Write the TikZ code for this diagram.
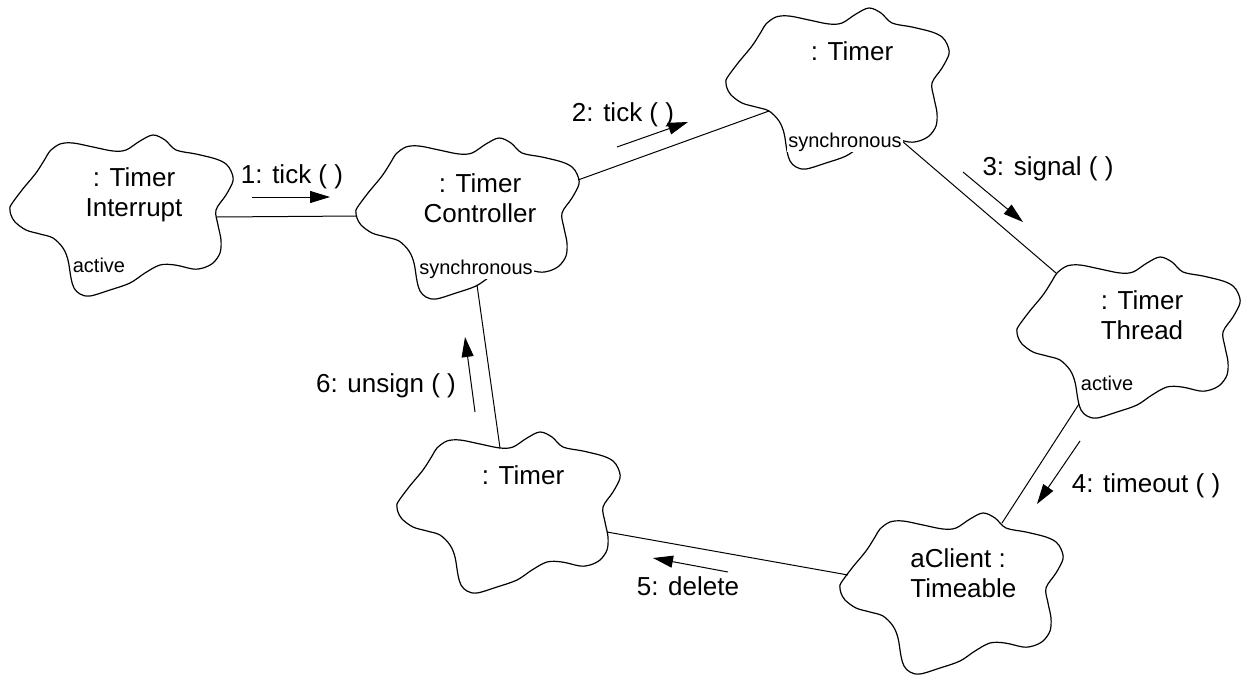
\documentclass[tikz,border=0pt]{standalone}
\usepackage{fontspec}
\setmainfont{Liberation Sans}
\usetikzlibrary{arrows.meta}

\tikzset{
  objcloud/.pic={
    \draw[line width=0.6pt, line join=round]
      plot[smooth cycle, tension=0.55] coordinates {
        (0,75) (1,70) (12,55) (26,38) (35,24) (40,16) (50,9) (63,8) (83,12)
        (103,16) (116,15) (130,6) (143,0) (155,5) (166,15) (186,19) (206,24)
        (216,29) (221,36) (223,46) (216,60) (206,75) (208,90) (211,105)
        (210,118) (203,128) (193,133) (183,134) (165,130) (150,130) (135,138)
        (120,148) (100,155) (80,161) (70,159) (64,153) (61,143) (58,125)
        (53,113) (43,103) (30,99) (16,95) (5,87) (1,80)};
    \coordinate (-w)   at (1,78);
    \coordinate (-wnw) at (8,62);
    \coordinate (-nw)  at (39,16);
    \coordinate (-n)   at (103,16);
    \coordinate (-nne) at (162,10);
    \coordinate (-ne)  at (222,42);
    \coordinate (-e)   at (207,82);
    \coordinate (-ese) at (210,100);
    \coordinate (-se)  at (176,133);
    \coordinate (-s)   at (121,147);
    \coordinate (-ssw) at (62,147);
    \coordinate (-wsw) at (43,103);
  },
  objname/.style={font=\fontsize{13}{15}\selectfont, align=center,
    inner sep=0pt, anchor=north},
  adorn/.style={font=\fontsize{10}{12}\selectfont, fill=white,
    inner sep=0.6pt, anchor=base},
  msglabel/.style={font=\fontsize{13}{15}\selectfont, inner sep=0pt,
    anchor=base},
  msgarrow/.style={line width=0.5pt, -{Triangle[length=10pt,width=6pt]}},
  link/.style={line width=0.5pt}
}

\begin{document}
\begin{tikzpicture}[x=0.5pt, y=-0.5pt]
%\draw[help lines, step=50] (0,0) grid (1243,675);
\useasboundingbox (0,0) rectangle (1243,675);

% objects
\pic (ti)  at (10,135)   {objcloud};
\pic (tc)  at (356,138)  {objcloud};
\pic (tm)  at (726,8)    {objcloud};
\pic (tt)  at (1017,257) {objcloud};
\pic (cl)  at (840,513)  {objcloud};
\pic (tb)  at (397,432)  {objcloud};

% links
\draw[link] (ti-e) -- (tc-w);
\draw[link] (tc-ne) -- (tm-wsw);
\draw[link] (tm-se) -- (tt-nw);
\draw[link] (tt-ssw) -- (cl-nne);
\draw[link] (cl-wnw) -- (tb-ese);
\draw[link] (tb-n) -- (tc-s);

% names
\node[objname] (ti-name) at (134,167)  {: Timer\\Interrupt};
\node[objname] (tc-name) at (480,173)  {: Timer\\Controller};
\node[objname] (tm-name) at (852,41)   {: Timer};
\node[objname] (tt-name) at (1142,290) {: Timer\\Thread};
\node[objname, anchor=north west, align=left] (cl-name) at (910,548) {aClient :\\Timeable};
\node[objname] (tb-name) at (523,465)  {: Timer};

\node[adorn] (ti-kind) at (99,272)   {active};
\node[adorn] (tc-kind) at (476,274)  {synchronous};
\node[adorn] (tm-kind) at (845,147)  {synchronous};
\node[adorn] (tt-kind) at (1107,390) {active};

% messages
\coordinate (m1a) at (252,197);  \coordinate (m1b) at (330,197);
\coordinate (m2a) at (617,147);  \coordinate (m2b) at (688,122);
\coordinate (m3a) at (963,172);  \coordinate (m3b) at (1023,222);
\coordinate (m4a) at (1080,441); \coordinate (m4b) at (1037,504);
\coordinate (m5a) at (728,572);  \coordinate (m5b) at (653,558);
\coordinate (m6a) at (475,412);  \coordinate (m6b) at (465,337);

\draw[msgarrow] (m1a) -- (m1b);
\draw[msgarrow] (m2a) -- (m2b);
\draw[msgarrow] (m3a) -- (m3b);
\draw[msgarrow] (m4a) -- (m4b);
\draw[msgarrow] (m5a) -- (m5b);
\draw[msgarrow] (m6a) -- (m6b);

\node[msglabel] (m1) at (292,183)  {1: tick ( )};
\node[msglabel] (m2) at (623,121)  {2: tick ( )};
\node[msglabel] (m3) at (1048,175) {3: signal ( )};
\node[msglabel] (m4) at (1146,492) {4: timeout ( )};
\node[msglabel] (m5) at (688,595)  {5: delete};
\node[msglabel] (m6) at (386,392)  {6: unsign ( )};
\end{tikzpicture}
\end{document}
